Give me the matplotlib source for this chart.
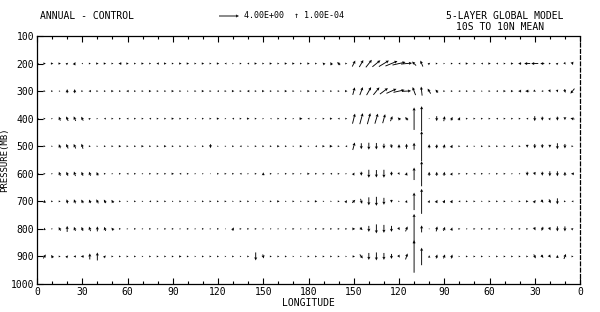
import matplotlib.pyplot as plt
import numpy as np

# longitude of each arrow column (5 deg spacing) and pressure levels
lons = list(range(0, 360, 5))
levels = [200, 300, 400, 500, 600, 700, 800, 900]
xtick_vals = list(range(0, 361, 30))
xtick_labels = ["0", "30", "60", "90", "120", "150", "180", "150", "120", "90", "60", "30", "0"]
ytick_vals = list(range(100, 1001, 100))

# zonal wind u (m/s) per level
u200 = [0.8, 0.5, 0.5, 0.5, 0.4, 0.3, -0.3, 0.4, 0.5, 0.5, 0.4, -0.6,
        0.5, 0.4, 0.5, 0.4, -0.5, 0.5, 0.4, 0.5, 0.5, 0.4, 0.5, 0.4,
        0.5, -0.4, 0.3, 0.4, -0.4, 0.5, 0.4, 0.5, 0.4, 0.5, 0.5, 0.4,
        0.5, 0.4, -0.4, -0.3, -0.6, 0.4, 0.6, 0.8, 1.2, 1.6, 2.0, 2.4,
        2.6, 2.2, -0.8, -0.5, 0.4, 0.4, 0.3, 0.4, -0.4, 0.5, 0.4, -0.4,
        0.5, -0.4, 0.4, 0.5, -0.6, -1.2, -1.4, -0.8, 0.4, 0.4, 0.3, 0.2]
u300 = [0.6, 0.4, 0.4, 0.3, 0.0, 0.0, 0.4, -0.5, 0.4, 0.4, 0.5, 0.4,
        -0.5, 0.4, 0.4, 0.5, 0.4, 0.4, 0.5, 0.4, 0.3, 0.4, 0.5, 0.4,
        -0.4, 0.4, 0.5, 0.4, -0.5, 0.4, 0.5, 0.4, 0.4, 0.5, 0.4, 0.3,
        0.5, 0.4, 0.4, 0.4, 0.4, 0.5, 0.4, 0.6, 0.9, 1.2, 1.6, 2.0,
        2.2, 1.8, -0.6, -0.2, -0.6, -0.5, 0.4, 0.4, -0.4, 0.4, 0.4, 0.3,
        0.4, -0.4, 0.5, 0.5, -0.6, -0.8, 0.4, -0.4, 0.3, 0.2, 0.2, -0.8]
u400 = [0.8, 0.4, 0.3, -0.3, -0.4, -0.4, -0.4, 0.4, 0.3, -0.4, 0.4, 0.4,
        -0.4, 0.4, 0.4, -0.4, 0.4, 0.4, 0.5, 0.4, 0.4, -0.3, 0.4, 0.4,
        0.5, 0.3, -0.4, 0.4, 0.5, 0.4, 0.3, -0.3, 0.4, 0.4, 0.3, 0.6,
        -0.4, 0.3, 0.4, 0.5, -0.4, 0.4, 0.5, 0.6, 0.6, 0.6, 0.5, 0.4,
        -0.5, -0.6, 0, 0, 0, 0, 0.2, 0.3, 0.3, 0.4, 0.4, 0.4,
        0.4, -0.4, 0.4, 0.4, 0.4, -0.4, 0, 0, 0.3, 0, 0, -0.8]
u500 = [0.8, 0.4, 0.3, -0.3, -0.4, -0.4, -0.3, 0.4, 0.3, 0.4, 0.4, 0.5,
        0.4, 0.4, 0.5, 0.4, 0.4, 0.5, 0.4, 0.4, 0.4, 0.3, 0.4, 0,
        0.3, 0.3, 0.4, -0.4, 0.3, 0.4, 0.4, 0.4, 0.5, 0.4, 0.3, 0.5,
        0.3, -0.4, 0.5, 0.6, 0.4, -0.4, 0.4, 0, 0, 0, 0, 0.2,
        0, 0, 0, 0, 0, 0.1, 0.2, 0.3, 0.4, -0.4, 0.3, 0.4,
        0.4, 0.4, 0.4, -0.4, 0.4, 0, 0, 0, 0, 0, 0, 0.4]
u600 = [0.8, 0.4, 0.3, -0.3, -0.3, -0.3, -0.3, -0.3, -0.3, 0.4, 0.3, 0.4,
        -0.4, 0.4, 0.3, 0.4, 0.4, 0.4, 0.5, -0.4, 0.4, 0.3, 0.3, 0.2,
        0.4, 0.4, 0.4, -0.4, 0.3, 0.4, 0, 0.4, 0.3, 0.4, 0.4, 0.3,
        0.5, 0.4, 0.4, -0.4, 0.4, 0.3, 0.3, 0, 0, 0, 0, 0,
        0.3, 0.2, 0, 0, 0, 0, 0.1, 0.3, 0.4, 0.4, -0.4, 0.4,
        0.3, 0.4, 0.4, 0.3, 0.3, 0, 0.2, 0, 0, 0, 0, -0.6]
u700 = [0.8, 0.0, 0.4, 0.4, -0.2, -0.3, -0.4, -0.3, -0.4, -0.4, -0.4, 0.4,
        0.3, 0.4, 0.3, -0.4, 0.4, 0.4, 0.3, 0.4, 0.3, 0.3, 0.4, 0.4,
        0.4, 0.4, 0.3, 0.4, 0.4, 0.3, 0.3, 0.4, 0.5, 0.3, 0.4, 0.3,
        0.4, 0.5, 0.3, 0.3, 0.4, 0.3, 0.6, 0.3, 0, 0, 0, 0,
        0.3, 0.2, 0, 0, 0.2, 0.3, 0.3, 0.3, -0.4, 0.4, 0.4, 0.3,
        0.4, 0.4, 0.4, 0.3, 0.4, 0.5, 0.4, 0.4, 0.3, 0, 0.4, -0.4]
u800 = [0.4, 0.0, 0.3, -0.4, 0, -0.3, -0.3, -0.3, 0, -0.3, -0.4, 0.4,
        0.3, 0.4, 0.3, 0.4, 0.3, 0.4, 0.4, 0.3, 0.4, 0.3, 0.4, 0.3,
        0.4, 0.0, 0.3, 0.4, 0.4, 0.4, 0.3, 0.3, 0.3, 0.3, 0.4, 0.3,
        0.3, 0.4, 0.4, 0.4, 0.4, 0.4, 0.6, 0.5, 0, 0, 0, 0,
        0.3, 0.4, 0, 0, 0, 0.2, 0.3, 0.2, 0.4, 0.3, 0.4, 0.4,
        0.4, 0.4, 0.3, 0.4, 0.4, 0.4, 0.3, -0.3, 0.3, 0, 0, 0.4]
u900 = [0.4, 0.5, -0.4, 0.4, 0.4, -0.5, -0.6, 0.0, 0.0, 0.4, 0.4, 0.4,
        0.4, 0.4, 0.3, 0.4, 0.4, 0.4, 0.4, 0.5, 0.4, 0.3, 0.4, 0.4,
        0.4, 0.3, 0.4, 0.3, 0.4, 0, 0.2, 0.4, 0.4, 0.4, 0.3, 0.3,
        0.4, 0.4, 0.4, 0.4, 0.4, 0.3, 0.5, 0.6, 0, 0, 0, 0,
        0.3, 0.4, 0, 0, 0, 0.2, 0.3, 0.2, 0.3, 0.4, 0.4, 0.4,
        0.3, 0.4, 0.4, 0.4, 0.4, 0.4, 0.4, 0.4, 0.4, 0, 0.4, 0.4]

# vertical motion (scaled, upward positive) per level
w200 = [0, 0, 0, 0, 0.3, 0.6, 0, 0, 0, 0, 0, 0,
        0, 0, 0, 0, 0, 0, 0, 0, 0, 0, 0, 0,
        0, 0, 0, 0, 0, 0, 0, 0, 0, 0, 0, 0,
        0, 0, 0.4, 0.6, 0.6, 0, 1.2, 1.4, 1.5, 1.3, 1.2, 1.0,
        0.6, 0.2, 0.8, 1.2, 0.3, 0, 0, 0, 0, 0, 0, 0,
        0, 0, 0, 0, 0, 0, 0, 0, 0, 0.3, -0.4, -0.6]
w300 = [0, 0, 0, 0, 0.8, 0.8, 0, 0, 0, 0, 0, 0,
        0, 0, 0, 0, 0, 0, 0, 0, 0, 0, 0, 0,
        0, 0, 0, 0, 0, 0, 0, 0, 0, 0, 0, 0,
        0, 0, 0, 0, 0, 0, 1.5, 1.6, 1.6, 1.5, 1.2, 0.9,
        0.5, 0.1, 1.6, 1.8, 1.0, 0.6, 0, 0, 0, 0, 0, 0,
        0, 0, 0, 0, 0, 0, -0.3, 0, -0.5, -0.5, -0.7, -1.0]
w400 = [0, 0, 0, 0.8, 0.9, 0.9, 0.8, 0.2, 0, 0, 0, 0,
        0, 0, 0, 0, 0, 0, 0, 0, 0, 0, 0, 0,
        0, 0, 0, 0, 0, 0, 0, 0, 0, 0, 0, 0,
        0, 0, 0, 0, 0, 0, 2.0, 2.2, 2.2, 2.0, 1.8, 1.0,
        0.5, 0.6, 4.5, 5.0, 0, -1.0, 1.0, 0.7, 0.6, 0, 0, 0,
        0, 0, 0, 0, 0, 0, -1.0, -0.8, 0.4, -0.8, -0.6, 0.2]
w500 = [0, 0, 0, 0.8, 0.9, 0.9, 1.0, 0, 0, 0, 0, 0,
        0, 0, 0, 0, 0, 0, 0, 0, 0, 0, 0, -0.8,
        0, 0, 0, 0, 0, 0, 0, 0, 0, 0, 0, 0,
        0, 0, 0, 0, 0, 0, 1.5, -1.2, -1.4, -1.3, -1.0, -0.8,
        0.8, 1.0, 1.4, 6.0, 0.8, 0.8, 0.8, 0.6, 0, 0, 0, 0,
        0, 0, 0, 0, 0, -0.6, -0.9, -0.8, -0.6, -1.2, -0.9, 0]
w600 = [0, 0, 0, 0.8, 0.8, 0.9, 0.8, 0.8, 0.7, 0, 0, 0,
        0, 0, 0, 0, 0, 0, 0, 0, 0, 0, 0, 0,
        0, 0, 0, 0, 0, 0, 0.6, 0, 0, 0, 0, 0,
        0, 0, 0, 0, 0, 0, 0.5, -0.8, -1.6, -1.5, -1.6, -0.8,
        -0.4, 0.6, 2.5, 5.0, 0.8, 0.8, 0.8, 0.5, 0, 0, 0, 0,
        0, 0, 0, 0, 0, -0.8, -0.6, -0.8, -1.0, -1.0, 0.8, 0]
w700 = [0, 0.6, 0, 0, 0.8, 0.8, 0.7, 0.7, 0.8, 0.7, 0.6, 0,
        0, 0, 0, 0, 0, 0, 0, 0, 0, 0, 0, 0,
        0, 0, 0, 0, 0, 0, 0, 0, 0, 0, 0, 0,
        0, 0, 0, 0, 0, 0.5, 0.6, -1.0, -1.6, -1.8, -1.4, -0.6,
        0, 0.5, 3.5, 5.0, 0.5, 0.6, 0.6, 0.6, 0, 0, 0, 0,
        0, 0, 0, 0, 0, 0, 0.5, -0.6, -0.8, -1.2, 0, 0]
w800 = [0, 0.5, 0, 0.7, 1.2, 0.8, 0.8, 0.9, 1.0, 0.8, 0.5, 0,
        0, 0, 0, 0, 0, 0, 0, 0, 0, 0, 0, 0,
        0, 0, 0.6, 0, 0, 0, 0, 0, 0, 0, 0, 0,
        0, 0, 0, 0, 0, 0, 0, -0.5, -1.2, -1.8, -1.6, -1.2,
        -0.5, 1.0, 6.0, 1.4, 0, 1.0, 0.8, 0.6, 0, 0, 0, 0,
        0, 0, 0, 0, 0, 0, -0.6, -0.8, -0.6, -1.0, -1.0, 0.3]
w900 = [0, 0.8, 0.6, 0, 0.4, 0, 0, 1.2, 1.6, 0.4, 0, 0,
        0, 0, 0, 0, 0, 0, 0, 0, 0, 0, 0, 0,
        0, 0, 0, 0, 0, -1.6, -0.8, 0, 0, 0, 0, 0,
        0, 0, 0, 0, 0, 0, 0, -0.8, -1.4, -1.6, -1.4, -1.0,
        -0.5, 1.2, 6.5, 3.5, 0.5, 0.8, 0.8, 0.8, 0, 0, 0, 0,
        0, 0, 0, 0, 0, 0, -0.8, -0.6, -0.5, 0.6, 1.0, 0]

U = np.array([u200, u300, u400, u500, u600, u700, u800, u900])
W = np.array([w200, w300, w400, w500, w600, w700, w800, w900])

plt.rcParams['font.family'] = 'DejaVu Sans Mono'
fig = plt.figure(figsize=(6, 3.12), dpi=100)
ax = fig.add_axes([37 / 600, 1 - 284 / 312, 543 / 600, 248 / 312])

X, Y = np.meshgrid(lons, levels)
# 5 px per m/s, arrows centred on their grid point
q = ax.quiver(X, Y, U, W, angles='uv', scale_units='dots', scale=0.2,
              units='dots', width=0.9, headwidth=3.5, headlength=3.5,
              headaxislength=3, pivot='middle', color='black')

ax.set_xlim(0, 360)
ax.set_ylim(1000, 100)
ax.set_xticks(xtick_vals)
ax.set_xticklabels(xtick_labels)
ax.set_xticks(range(0, 361, 10), minor=True)
ax.set_yticks(ytick_vals)
ax.set_yticklabels([str(v) for v in ytick_vals])
ax.tick_params(direction='in', length=4, labelsize=7, top=True, width=0.8, pad=2)
ax.tick_params(which='minor', direction='in', length=2, top=True, width=0.8)
ax.spines['right'].set_linestyle((0, (3, 2)))
for s in ax.spines.values():
    s.set_linewidth(0.9)

ax.set_xlabel('LONGITUDE', fontsize=7, labelpad=1)
ax.set_ylabel('PRESSURE(MB)', fontsize=6.5)
ax.yaxis.set_label_coords(-0.052, 0.5)

fig.text(40 / 600, 1 - 16 / 312, 'ANNUAL - CONTROL', fontsize=7, va='center')
ax.quiverkey(q, 239 / 600, 1 - 16 / 312, 4, '4.00E+00  \u2191 1.00E-04',
             coordinates='figure', labelpos='E', labelsep=0.05,
             fontproperties={'size': 6})
fig.text(505 / 600, 1 - 16 / 312, '5-LAYER GLOBAL MODEL', fontsize=7,
         ha='center', va='center')
fig.text(500 / 600, 1 - 27 / 312, '10S TO 10N MEAN', fontsize=7,
         ha='center', va='center')

fig.savefig('out.png', dpi=100)
